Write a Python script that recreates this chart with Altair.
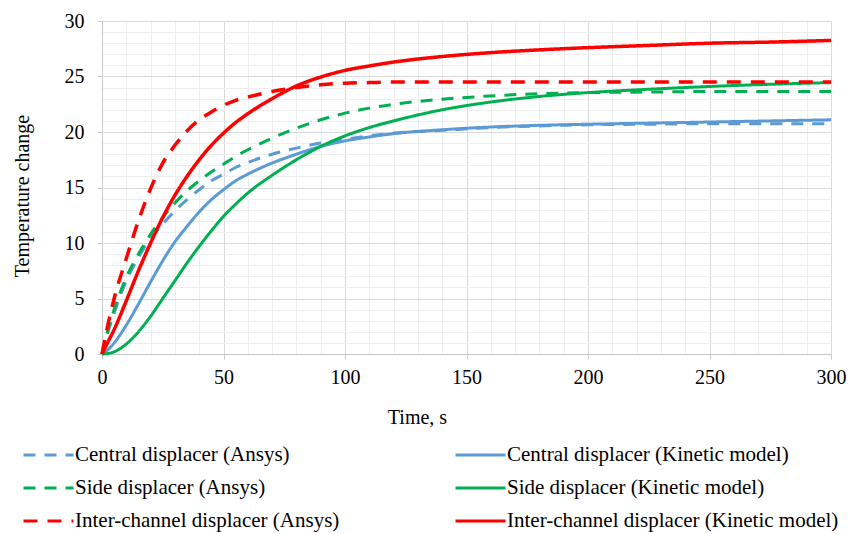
import altair as alt
import pandas as pd

# Time points (s)
t = [0, 2, 5, 10, 15, 20, 25, 30, 35, 40, 45, 50, 55, 60, 70, 80, 90, 100, 110, 120, 140, 160, 180, 200, 225, 250, 275, 300]

central_ansys = [0, 1.6, 3.7, 6.6, 8.7, 10.4, 11.7, 12.9, 13.9, 14.8, 15.6, 16.2, 16.8, 17.25, 18.0, 18.55, 19.0, 19.35, 19.65, 19.9, 20.15, 20.4, 20.55, 20.65, 20.7, 20.75, 20.75, 20.75]
side_ansys = [0, 1.8, 4.0, 6.9, 9.0, 10.8, 12.3, 13.6, 14.7, 15.6, 16.4, 17.1, 17.8, 18.4, 19.45, 20.35, 21.1, 21.7, 22.15, 22.5, 22.95, 23.25, 23.45, 23.55, 23.6, 23.65, 23.65, 23.65]
inter_ansys = [0, 2.2, 5.0, 8.6, 12.0, 14.9, 17.2, 18.8, 20.1, 21.1, 21.8, 22.4, 22.85, 23.15, 23.65, 24.0, 24.25, 24.4, 24.45, 24.5, 24.5, 24.5, 24.5, 24.5, 24.5, 24.5, 24.5, 24.5]
central_kinetic = [0, 0.3, 1.0, 2.6, 4.5, 6.5, 8.4, 10.1, 11.5, 12.8, 13.9, 14.8, 15.6, 16.2, 17.2, 18.0, 18.7, 19.2, 19.55, 19.85, 20.2, 20.45, 20.6, 20.7, 20.8, 20.9, 21.0, 21.1]
side_kinetic = [0, 0.03, 0.2, 0.9, 2.0, 3.4, 5.0, 6.6, 8.2, 9.7, 11.1, 12.4, 13.5, 14.5, 16.1, 17.5, 18.7, 19.65, 20.4, 21.0, 22.0, 22.7, 23.2, 23.55, 23.85, 24.1, 24.3, 24.45]
inter_kinetic = [0, 0.9, 2.2, 4.8, 7.5, 10.0, 12.3, 14.3, 16.0, 17.5, 18.8, 19.9, 20.85, 21.65, 23.0, 24.15, 24.95, 25.55, 25.95, 26.3, 26.8, 27.15, 27.4, 27.6, 27.8, 28.0, 28.1, 28.25]

# Legend order (column-major: Ansys column, then kinetic-model column)
series_names = [
    "Central displacer (Ansys)",
    "Side displacer (Ansys)",
    "Inter-channel displacer  (Ansys)",
    "Central displacer (Kinetic model)",
    "Side displacer (Kinetic model)",
    "Inter-channel displacer (Kinetic model)",
]
series_values = [central_ansys, side_ansys, inter_ansys, central_kinetic, side_kinetic, inter_kinetic]
colors = ["#5B9BD5", "#00B050", "#FF0000", "#5B9BD5", "#00B050", "#FF0000"]
dashes = [[12, 9], [12, 9], [14, 10], [1, 0], [1, 0], [1, 0]]
draw_order = [0, 3, 1, 4, 2, 5]

rows = []
for i in draw_order:
    for ti, v in zip(t, series_values[i]):
        rows.append({"series": series_names[i], "t": ti, "v": v})
df = pd.DataFrame(rows)

FONT = "Times New Roman, Liberation Serif, DejaVu Serif, serif"

legend = alt.Legend(
    title=None, orient="none", legendX=-80, legendY=417.5, columns=2,
    symbolType="stroke", symbolSize=2500, symbolStrokeWidth=3,
    labelFont=FONT, labelFontSize=21, labelColor="black", labelLimit=0,
    clipHeight=33, rowPadding=0, columnPadding=109, labelOffset=0, padding=0,
)

color_scale = alt.Scale(domain=series_names, range=colors)
dash_scale = alt.Scale(domain=series_names, range=dashes)

x_axis = alt.Axis(
    values=list(range(0, 301, 10)),
    labelExpr="datum.value % 50 === 0 ? datum.label : ''",
    grid=True,
    gridColor={"condition": {"test": "datum.value % 50 === 0", "value": "#d9d9d9"}, "value": "#eeeeee"},
    tickColor={"condition": {"test": "datum.value % 50 === 0", "value": "#c8c8c8"}, "value": "transparent"},
    tickSize=5, domainColor="#c8c8c8",
    labelFont=FONT, labelFontSize=20, labelColor="black", labelPadding=8,
    labelFlush=False, labelOverlap=False,
    title="Time, s", titleFont=FONT, titleFontSize=20, titleFontWeight="normal",
    titleColor="black", titleX=315, titleY=69, titleAlign="center", titleBaseline="alphabetic",
)
y_axis = alt.Axis(
    values=list(range(0, 31, 1)),
    labelExpr="datum.value % 5 === 0 ? datum.label : ''",
    grid=True,
    gridColor={"condition": {"test": "datum.value % 5 === 0", "value": "#d9d9d9"}, "value": "#eeeeee"},
    tickColor={"condition": {"test": "datum.value % 5 === 0", "value": "#c8c8c8"}, "value": "transparent"},
    tickSize=5, domainColor="#c8c8c8",
    labelFont=FONT, labelFontSize=20, labelColor="black", labelPadding=13,
    labelOverlap=False,
    title="Temperature change", titleFont=FONT, titleFontSize=20, titleFontWeight="normal",
    titleColor="black", titleAngle=270, titleX=-74, titleY=174.5, titleAlign="center",
    titleBaseline="alphabetic",
)

def layer(names, width):
    return alt.Chart(df[df["series"].isin(names)]).mark_line(
        interpolate="monotone", strokeWidth=width
    ).encode(
        x=alt.X("t:Q", scale=alt.Scale(domain=[0, 300], nice=False), axis=x_axis),
        y=alt.Y("v:Q", scale=alt.Scale(domain=[0, 30], nice=False), axis=y_axis),
        color=alt.Color("series:N", scale=color_scale, legend=legend),
        strokeDash=alt.StrokeDash("series:N", scale=dash_scale, legend=legend),
    )

chart = alt.layer(
    layer([series_names[i] for i in (0, 1, 3, 4)], 3),
    layer([series_names[i] for i in (2, 5)], 3.5),
).properties(
    width=729, height=333,
    padding={"left": 102, "top": 21, "right": 20, "bottom": 180},
    autosize=alt.AutoSizeParams(type="none"),
).configure_view(stroke=None).configure(background="white")

chart.save("out.html", embed_options={"renderer": "svg", "actions": False})
